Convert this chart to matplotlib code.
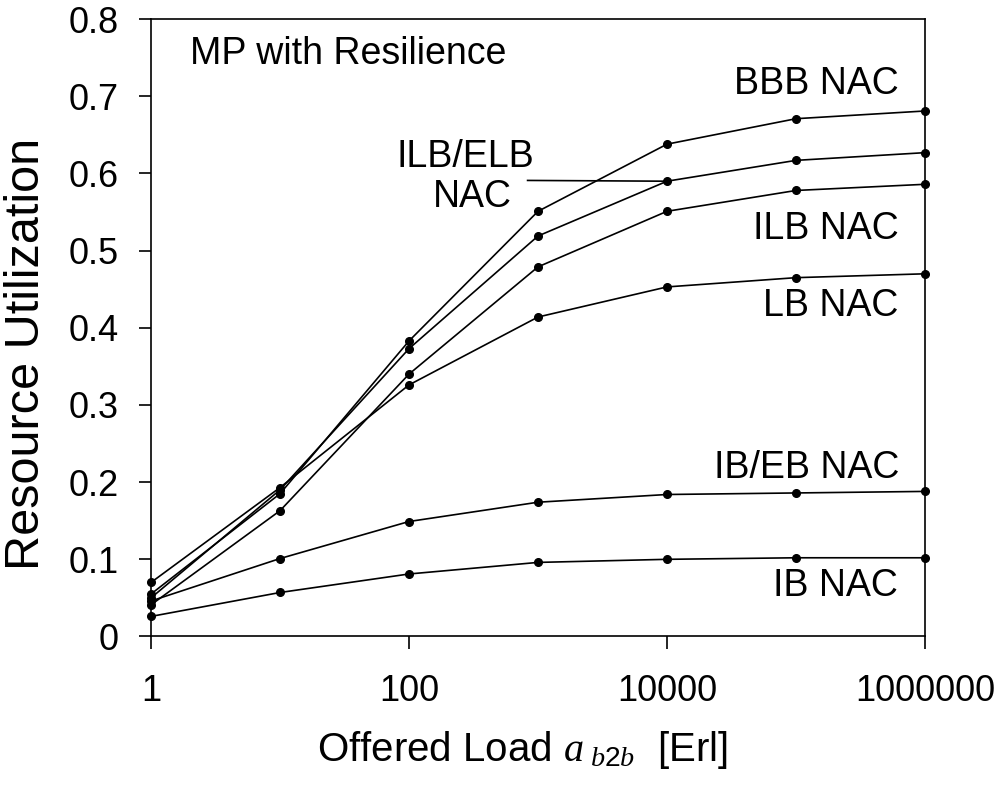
import matplotlib
matplotlib.use("Agg")
import matplotlib.pyplot as plt

plt.rcParams['font.family'] = ['Liberation Sans', 'DejaVu Sans']
plt.rcParams['mathtext.fontset'] = 'custom'
plt.rcParams['mathtext.it'] = 'Liberation Serif:italic'
plt.rcParams['mathtext.rm'] = 'Liberation Sans'

# Offered load values (Erl)
load = [1, 10, 100, 1000, 10000, 100000, 1000000]

# Resource utilization per scheme
bbb_nac = [0.055, 0.185, 0.383, 0.551, 0.638, 0.671, 0.681]
ilb_elb_nac = [0.050, 0.190, 0.373, 0.519, 0.590, 0.617, 0.627]
ilb_nac = [0.041, 0.163, 0.340, 0.479, 0.551, 0.578, 0.586]
lb_nac = [0.070, 0.193, 0.326, 0.414, 0.453, 0.465, 0.470]
ib_eb_nac = [0.046, 0.101, 0.149, 0.174, 0.184, 0.186, 0.188]
ib_nac = [0.026, 0.057, 0.081, 0.096, 0.100, 0.102, 0.102]

series = [bbb_nac, ilb_elb_nac, ilb_nac, lb_nac, ib_eb_nac, ib_nac]

xticks = [1, 100, 10000, 1000000]
xticklabels = ["1", "100", "10000", "1000000"]
yticks = [0, 0.1, 0.2, 0.3, 0.4, 0.5, 0.6, 0.7, 0.8]
yticklabels = ["0", "0.1", "0.2", "0.3", "0.4", "0.5", "0.6", "0.7", "0.8"]

fig = plt.figure(figsize=(10.02, 7.98), dpi=100)
ax = fig.add_axes([0.1507, 0.2024, 0.7725, 0.7736])

for s in series:
    ax.plot(load, s, color='black', lw=1.2, marker='o', ms=5.5,
            markerfacecolor='black', markeredgecolor='black', clip_on=False, zorder=3)

ax.set_xscale('log')
ax.set_xlim(1, 1000000)
ax.set_ylim(0, 0.8)
ax.set_xticks(xticks)
ax.set_xticklabels(xticklabels)
ax.minorticks_off()
ax.set_yticks(yticks)
ax.set_yticklabels(yticklabels)
ax.tick_params(axis='both', direction='out', length=9, width=1.2, labelsize=26)
ax.tick_params(axis='y', pad=14)
ax.tick_params(axis='x', pad=18)
for sp in ax.spines.values():
    sp.set_linewidth(1.2)

ax.set_ylabel("Resource Utilization", fontsize=35)
ax.yaxis.set_label_coords(-0.132, 0.4575)
ax.set_xlabel(r"Offered Load $a_{\ b2b}$  [Erl]", fontsize=29)
ax.xaxis.set_label_coords(0.48, -0.15)

fs = 27
ax.text(2.0, 0.755, "MP with Resilience", fontsize=fs, ha='left', va='center')
ax.text(6.2e5, 0.716, "BBB NAC", fontsize=fs, ha='right', va='center')
ax.text(6.2e5, 0.528, "ILB NAC", fontsize=fs, ha='right', va='center')
ax.text(6.2e5, 0.428, "LB NAC", fontsize=fs, ha='right', va='center')
ax.text(6.3e5, 0.2185, "IB/EB NAC", fontsize=fs, ha='right', va='center')
ax.text(6.2e5, 0.065, "IB NAC", fontsize=fs, ha='right', va='center')
ax.text(273, 0.621, "ILB/ELB", fontsize=fs, ha='center', va='center')
ax.text(310, 0.570, "NAC", fontsize=fs, ha='center', va='center')
ax.plot([830, 10000], [0.591, 0.590], color='black', lw=1.2)

fig.savefig("out.png", dpi=100)
